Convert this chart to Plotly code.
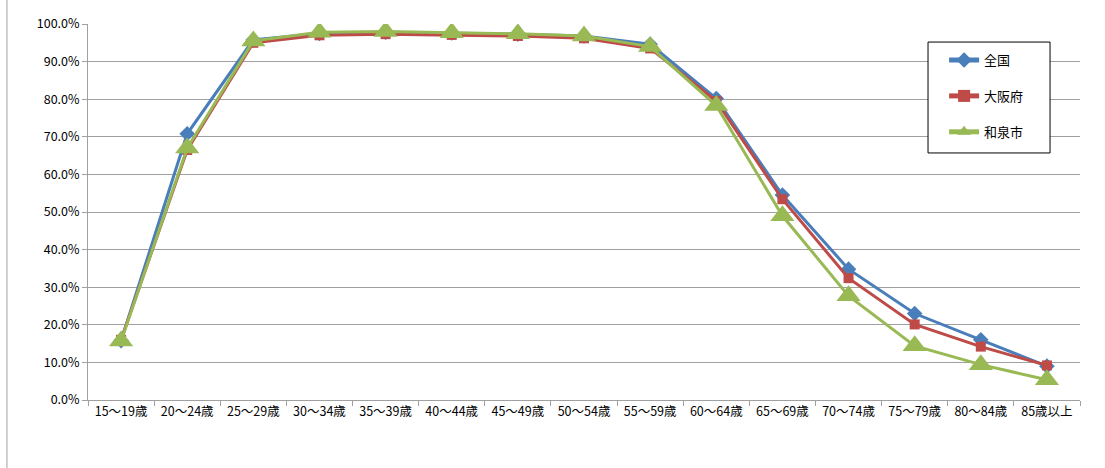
import plotly.graph_objects as go

# 年齢階級別 労働力率（全国・大阪府・和泉市）
age_groups = ["15～19歳", "20～24歳", "25～29歳", "30～34歳", "35～39歳",
              "40～44歳", "45～49歳", "50～54歳", "55～59歳", "60～64歳",
              "65～69歳", "70～74歳", "75～79歳", "80～84歳", "85歳以上"]

zenkoku = [0.158, 0.708, 0.958, 0.975, 0.978, 0.976, 0.973, 0.968, 0.946, 0.802,
           0.545, 0.348, 0.230, 0.160, 0.090]
osaka = [0.160, 0.665, 0.950, 0.970, 0.973, 0.971, 0.968, 0.962, 0.935, 0.795,
         0.534, 0.324, 0.201, 0.142, 0.092]
izumi = [0.157, 0.670, 0.955, 0.978, 0.980, 0.977, 0.974, 0.968, 0.940, 0.783,
         0.490, 0.277, 0.144, 0.094, 0.054]

series = [
    ("全国", zenkoku, "#4A7EBB", "diamond", 12),
    ("大阪府", osaka, "#BE4B48", "square", 10),
    ("和泉市", izumi, "#98B954", "triangle-up", 21),
]

fig = go.Figure()
for name, vals, color, symbol, size in series:
    fig.add_trace(go.Scatter(
        x=age_groups, y=vals, name=name, legendgroup=name,
        mode="lines+markers",
        line=dict(color=color, width=3),
        marker=dict(symbol=symbol, size=size, color=color),
    ))

fig.update_layout(
    width=1105, height=468,
    margin=dict(l=88, r=25, t=24, b=68),
    paper_bgcolor="white", plot_bgcolor="white",
    font=dict(family="Noto Sans CJK JP", size=12.5, color="#000000"),
    showlegend=True,
    legend=dict(
        x=0.863, y=0.944, xanchor="left", yanchor="top",
        borderwidth=0, bgcolor="rgba(0,0,0,0)",
        font=dict(family="Noto Sans CJK JP", size=13, color="#000000"),
        tracegroupgap=16, traceorder="grouped",
        itemsizing="constant",
    ),
    xaxis=dict(
        type="category", tickson="boundaries",
        showline=True, linecolor="#A0A0A0", linewidth=1,
        ticks="outside", ticklen=5, tickcolor="#A0A0A0",
        showgrid=False, tickfont=dict(size=12.5),
        range=[-0.5, 14.5],
    ),
    yaxis=dict(
        range=[0, 1.0], dtick=0.1, tickformat=".1%",
        showline=True, linecolor="#A0A0A0", linewidth=1,
        ticks="outside", ticklen=5, tickcolor="#A0A0A0",
        showgrid=True, gridcolor="#A0A0A0", gridwidth=1,
        zeroline=False, tickfont=dict(size=12.5),
    ),
)

# legend frame
fig.add_shape(type="rect", xref="paper", yref="paper",
              x0=0.8468, x1=0.9698, y0=0.657, y1=0.952,
              line=dict(color="#000000", width=1), fillcolor="white",
              layer="above")

# chart-area frame on the left edge
fig.add_shape(type="line", xref="paper", yref="paper",
              x0=-0.0817, x1=-0.0817, y0=1.1, y1=-0.2,
              line=dict(color="#A0A0A0", width=1))

fig.write_html("out.html")
